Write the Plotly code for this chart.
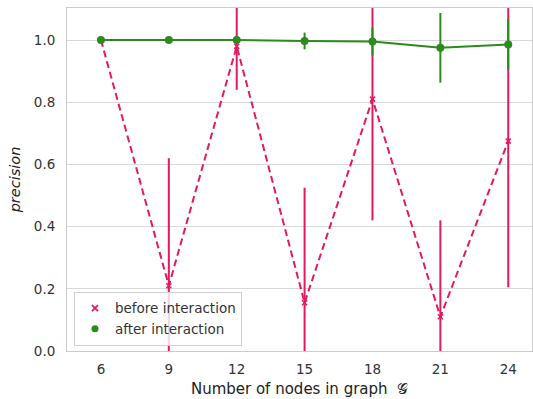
import plotly.graph_objects as go

nodes = [6, 9, 12, 15, 18, 21, 24]
before_mean = [1.0, 0.21, 0.98, 0.155, 0.81, 0.11, 0.675]
before_err = [0.0, 0.41, 0.14, 0.37, 0.39, 0.31, 0.47]
after_mean = [1.0, 1.0, 1.0, 0.997, 0.995, 0.975, 0.986]
after_err = [0.0, 0.0, 0.0, 0.027, 0.045, 0.112, 0.082]
series_names = ["before interaction", "after interaction"]

red = "#e5195c"
green = "#2d8a1c"
font = "DejaVu Sans"

fig = go.Figure()
fig.add_trace(go.Scatter(
    x=nodes, y=before_mean, mode="lines+markers", showlegend=False,
    line=dict(color=red, width=2, dash="7px,4px"),
    marker=dict(symbol="x-thin", size=5, color=red, line=dict(color=red, width=1.5)),
    error_y=dict(type="data", array=before_err, color=red, thickness=2, width=0),
))
fig.add_trace(go.Scatter(
    x=nodes, y=after_mean, mode="lines+markers", showlegend=False,
    line=dict(color=green, width=2),
    marker=dict(symbol="circle", size=8, color=green),
    error_y=dict(type="data", array=after_err, color=green, thickness=2, width=0),
))
# legend entries (markers only, as in the reference)
fig.add_trace(go.Scatter(
    x=[None], y=[None], mode="markers", name=series_names[0],
    marker=dict(symbol="x-thin", size=6, color=red, line=dict(color=red, width=1.8)),
))
fig.add_trace(go.Scatter(
    x=[None], y=[None], mode="markers", name=series_names[1],
    marker=dict(symbol="circle", size=7, color=green),
))

fig.update_layout(
    width=533, height=399,
    margin=dict(l=67, r=1, t=8, b=48),
    paper_bgcolor="white", plot_bgcolor="white",
    font=dict(family=font, size=13.5, color="#333333"),
    legend=dict(
        x=0.015, y=0.015, xanchor="left", yanchor="bottom",
        bgcolor="rgba(255,255,255,0.8)", bordercolor="#d0d0d0", borderwidth=1,
        font=dict(size=13.5, color="#333333"),
        tracegroupgap=0,
    ),
    showlegend=True,
)
fig.update_xaxes(
    range=[4.5, 25.05], tickvals=nodes, ticktext=[str(n) for n in nodes],
    showgrid=False, zeroline=False,
    showline=True, linecolor="#cccccc", linewidth=1, mirror=True,
    ticks="", ticklabelstandoff=6,
    title=dict(text="Number of nodes in graph  𝒢", font=dict(size=15, color="#222222"), standoff=7),
)
fig.update_yaxes(
    range=[0, 1.103], tickvals=[0, 0.2, 0.4, 0.6, 0.8, 1.0], tickformat=".1f",
    showgrid=True, gridcolor="#d9d9d9", gridwidth=1, zeroline=False,
    showline=True, linecolor="#cccccc", linewidth=1, mirror=True,
    ticks="", ticklabelstandoff=8,
    title=dict(text="<i>precision</i>", font=dict(size=14.5, color="#222222"), standoff=9),
)

fig.write_html("out.html")
